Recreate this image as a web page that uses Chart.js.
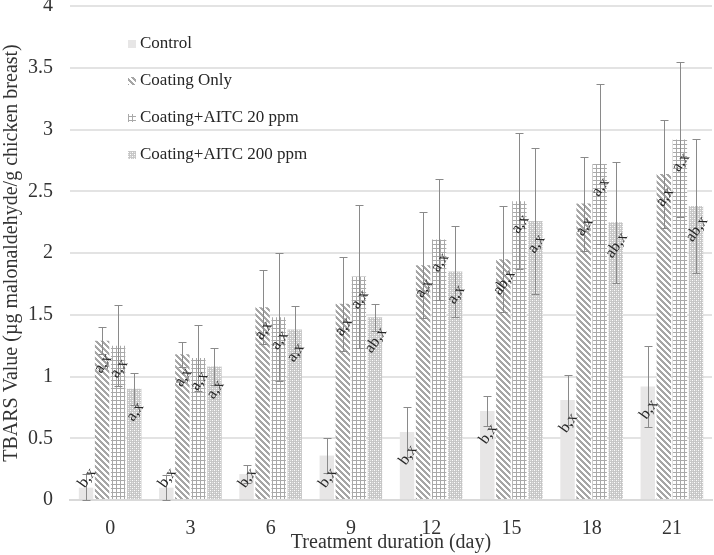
<!DOCTYPE html>
<html>
<head>
<meta charset="utf-8">
<script src="https://cdn.jsdelivr.net/npm/chart.js@4/dist/chart.umd.min.js"></script>
<style>
  body { margin: 0; background: #fff; }
</style>
</head>
<body>
<canvas id="myChart" width="714" height="555"></canvas>
<script>
//Data-------------------------------------------------------------------------
const days = ['0', '3', '6', '9', '12', '15', '18', '21'];

const control        = [0.10, 0.10, 0.21, 0.36, 0.55, 0.72, 0.81, 0.92];
const controlErr     = [0.11, 0.10, 0.07, 0.14, 0.20, 0.12, 0.20, 0.33];
const coatingOnly    = [1.29, 1.18, 1.56, 1.59, 1.90, 1.95, 2.40, 2.64];
const coatingOnlyErr = [0.11, 0.10, 0.30, 0.38, 0.43, 0.43, 0.38, 0.44];
const aitc20         = [1.25, 1.15, 1.48, 1.81, 2.11, 2.42, 2.72, 2.92];
const aitc20Err      = [0.33, 0.27, 0.52, 0.58, 0.49, 0.55, 0.65, 0.63];
const aitc200        = [0.90, 1.08, 1.38, 1.48, 1.85, 2.26, 2.25, 2.38];
const aitc200Err     = [0.13, 0.15, 0.19, 0.11, 0.37, 0.59, 0.49, 0.54];

// significance letters above each bar
const controlLetters     = ['b,x', 'b,x', 'b,x', 'b,x', 'b,x', 'b,x', 'b,x', 'b,x'];
const coatingOnlyLetters = ['a,x', 'a,x', 'a,x', 'a,x', 'a,x', 'ab,x', 'a,x', 'a,x'];
const aitc20Letters      = ['a,x', 'a,x', 'a,x', 'a,x', 'a,x', 'a,x', 'a,x', 'a,x'];
const aitc200Letters     = ['a,x', 'a,x', 'a,x', 'ab,x', 'a,x', 'a,x', 'ab,x', 'ab,x'];

const yTicks = [0, 0.5, 1, 1.5, 2, 2.5, 3, 3.5, 4];
//-----------------------------------------------------------------------------


//Fill patterns (like the Excel pattern fills)----------------------------------
function makePattern(size, painter) {
    const c = document.createElement('canvas');
    c.width = size;
    c.height = size;
    const g = c.getContext('2d');
    g.fillStyle = '#ffffff';
    g.fillRect(0, 0, size, size);
    for (let x = 0; x < size; x++) {
        for (let y = 0; y < size; y++) {
            const col = painter(x, y);
            if (col) {
                g.fillStyle = col;
                g.fillRect(x, y, 1, 1);
            }
        }
    }
    return g.createPattern(c, 'repeat');
}

const ctx = document.getElementById('myChart').getContext('2d');

const solidGray = '#e7e6e6';
const stripes = makePattern(6, (x, y) => ((x - y + 12) % 6) < 3 ? '#a6a6a6' : null);
const grid = makePattern(4, (x, y) => (x === 0 || y === 0) ? '#a9a9a9' : null);
const dots = makePattern(4, (x, y) => {
    if (x % 2 === 0 && y % 2 === 0) return ((x + y) % 4 === 0) ? '#ffffff' : '#e2e2e2';
    return ((x + y) % 2 === 0) ? '#c4c4c4' : '#c9c9c9';
});
//-----------------------------------------------------------------------------


//Plugins: error bars, letters, legend-----------------------------------------
const errorBars = {
    id: 'errorBars',
    afterDatasetsDraw(chart) {
        const c = chart.ctx;
        const yScale = chart.scales.y;
        c.save();
        c.strokeStyle = '#8a8a8a';
        c.lineWidth = 1;
        chart.data.datasets.forEach((ds, i) => {
            const meta = chart.getDatasetMeta(i);
            meta.data.forEach((bar, k) => {
                const v = ds.data[k];
                const e = ds.errors[k];
                const top = Math.round(yScale.getPixelForValue(v + e)) + 0.5;
                const bot = Math.round(yScale.getPixelForValue(Math.max(0, v - e))) + 0.5;
                const x = Math.round(bar.x) + 0.5;
                c.beginPath();
                c.moveTo(x, top);
                c.lineTo(x, bot);
                c.moveTo(x - 4, top);
                c.lineTo(x + 4, top);
                c.moveTo(x - 4, bot);
                c.lineTo(x + 4, bot);
                c.stroke();
            });
        });
        c.restore();
    }
};

const letterLabels = {
    id: 'letterLabels',
    afterDatasetsDraw(chart) {
        const c = chart.ctx;
        const base = chart.scales.y.getPixelForValue(0);
        c.save();
        c.fillStyle = '#262626';
        c.font = '16px "Liberation Serif"';
        c.textAlign = 'center';
        c.textBaseline = 'middle';
        chart.data.datasets.forEach((ds, i) => {
            const meta = chart.getDatasetMeta(i);
            meta.data.forEach((bar, k) => {
                const cy = Math.min(bar.y + 23, base - 22); // below the bar top, but not under the axis
                c.save();
                c.translate(bar.x + 1, cy);
                c.rotate(-55 * Math.PI / 180);
                c.fillText(ds.letters[k], 0, 0);
                c.restore();
            });
        });
        c.restore();
    }
};

const sideLegend = {
    id: 'sideLegend',
    afterDraw(chart) {
        const c = chart.ctx;
        c.save();
        c.font = '17px "Liberation Serif"';
        c.textBaseline = 'middle';
        c.textAlign = 'left';
        chart.data.datasets.forEach((ds, i) => {
            const cy = 44 + i * 37;
            c.fillStyle = ds.backgroundColor;
            c.fillRect(128, cy - 4, 8, 8);
            c.fillStyle = '#262626';
            c.fillText(ds.label, 140, cy);
        });
        c.restore();
    }
};
//-----------------------------------------------------------------------------


//Chart------------------------------------------------------------------------
Chart.defaults.font.family = '"Liberation Serif", "Times New Roman", serif';
Chart.defaults.color = '#333333';

const myChart = new Chart(ctx, {
    type: 'bar',
    data: {
        labels: days,
        datasets: [
            { label: 'Control', data: control, errors: controlErr, letters: controlLetters, backgroundColor: solidGray },
            { label: 'Coating Only', data: coatingOnly, errors: coatingOnlyErr, letters: coatingOnlyLetters, backgroundColor: stripes },
            { label: 'Coating+AITC 20 ppm', data: aitc20, errors: aitc20Err, letters: aitc20Letters, backgroundColor: grid },
            { label: 'Coating+AITC 200 ppm', data: aitc200, errors: aitc200Err, letters: aitc200Letters, backgroundColor: dots }
        ]
    },
    options: {
        responsive: false,
        animation: false,
        categoryPercentage: 0.8,
        barPercentage: 0.9,
        layout: { padding: { top: 6, right: 2, left: 0, bottom: 0 } },
        scales: {
            x: {
                grid: { display: false },
                border: { display: true, color: '#d9d9d9', width: 2 },
                ticks: { font: { size: 20 }, padding: 9 },
                title: {
                    display: true,
                    text: 'Treatment duration (day)',
                    font: { size: 20 },
                    padding: { top: 0, bottom: 0 }
                },
                afterFit(scale) {
                    scale.height = 55;
                    scale.paddingLeft = 0;
                    scale.paddingRight = 0;
                }
            },
            y: {
                min: 0,
                max: 4,
                afterBuildTicks(scale) {
                    scale.ticks = yTicks.map(v => ({ value: v }));
                },
                grid: { color: '#e3e3e3', lineWidth: 2, drawTicks: false },
                border: { display: false },
                ticks: {
                    font: { size: 20 },
                    padding: 17,
                    callback: v => String(v)
                },
                title: {
                    display: true,
                    text: 'TBARS Value (µg malonaldehyde/g chicken breast)',
                    font: { size: 20 },
                    padding: { top: 0, bottom: 0 }
                },
                afterFit(scale) {
                    scale.width = 70;
                    scale.paddingTop = 0;
                    scale.paddingBottom = 0;
                }
            }
        },
        plugins: {
            legend: { display: false },
            tooltip: { enabled: false }
        }
    },
    plugins: [errorBars, letterLabels, sideLegend]
});
//-----------------------------------------------------------------------------
</script>
</body>
</html>
